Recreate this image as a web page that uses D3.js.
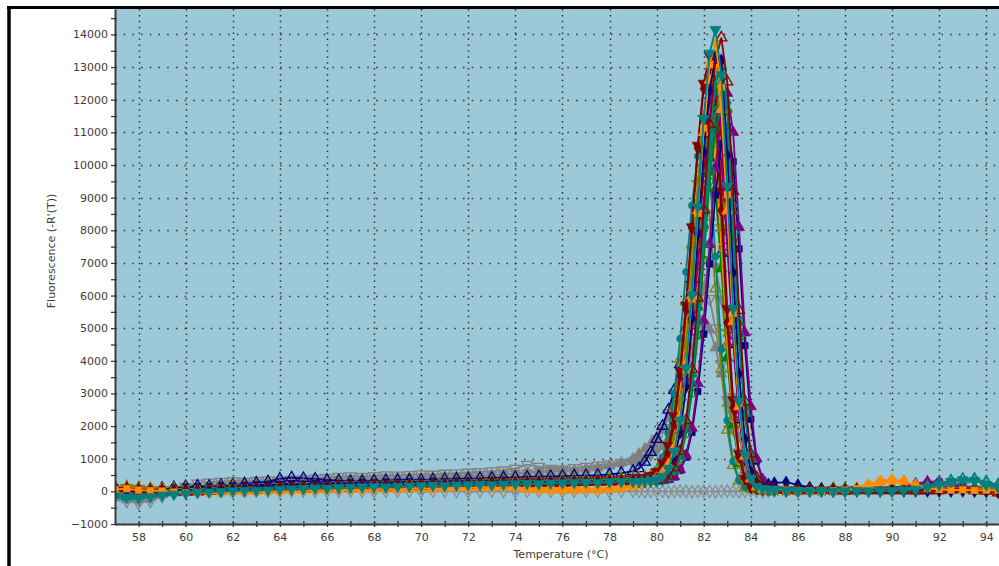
<!DOCTYPE html>
<html>
<head>
<meta charset="utf-8">
<script src="https://cdn.jsdelivr.net/npm/d3@7"></script>
<style>
  html, body { margin: 0; padding: 0; background: #ffffff; }
  svg { display: block; }
  text { font-family: "DejaVu Sans", Verdana, sans-serif; }
</style>
</head>
<body>
<svg id="chart" width="999" height="566"></svg>
<script>
// Melt curve: -dR/dT against temperature, one series per well.
const temperature = [
  57, 57.5, 58, 58.5, 59, 59.5, 60, 60.5, 61, 61.5, 62, 62.5, 63, 63.5, 64,
  64.5, 65, 65.5, 66, 66.5, 67, 67.5, 68, 68.5, 69, 69.5, 70, 70.5, 71, 71.5,
  72, 72.5, 73, 73.5, 74, 74.5, 75, 75.5, 76, 76.5, 77, 77.5, 78, 78.5, 79,
  79.25, 79.5, 79.75, 80, 80.25, 80.5, 80.75, 81, 81.25, 81.5, 81.75, 82,
  82.25, 82.5, 82.75, 83, 83.25, 83.5, 83.75, 84, 84.25, 84.5, 84.75, 85,
  85.5, 86, 86.5, 87, 87.5, 88, 88.5, 89, 89.5, 90, 90.5, 91, 91.5, 92, 92.5,
  93, 93.5, 94, 94.5
];

const xTicks = [58, 60, 62, 64, 66, 68, 70, 72, 74, 76, 78, 80, 82, 84, 86, 88, 90, 92, 94];
const xMinorTicks = [59, 61, 63, 65, 67, 69, 71, 73, 75, 77, 79, 81, 83, 85, 87, 89, 91, 93];
const yTicks = [-1000, 0, 1000, 2000, 3000, 4000, 5000, 6000, 7000, 8000, 9000, 10000, 11000, 12000, 13000, 14000];
const yMinorTicks = [-500, 500, 1500, 2500, 3500, 4500, 5500, 6500, 7500, 8500, 9500, 10500, 11500, 12500, 13500, 14500];

const wellA1 = [
  60,80,40,20,10, -20,-40,-30,-50,-60, -40,-50,-30,-20,-10, 0,10,30,20,40, 50,40,60,70,60,
  80,90,70,100,110, 100,120,130,110,140, 90,80,70,80,70, 60,70,90,120,170,
  230,270,320,380,500,740,1240,2170,3720,5890,8520,11130,13070,13750,12380,9090,5450,2690,1110,390,140,70,60,50,
  40,30,20,30,20, 40,80,150,260,320, 300,180,90,60,40, 50,30,40,30
];
const wellA2 = [
  -150,-180,-200,-170,-120, -90,-60,-40,-20,-10, 10,20,30,40,60, 70,80,100,90,110, 120,130,140,130,150,
  160,170,180,170,190, 200,210,200,220,230, 240,230,250,260,270, 280,270,290,300,300,
  300,310,320,360,460,700,1220,2180,3780,6020,8720,11420,13420,14150,12760,9350,5600,2760,1130,400,150,80,60,40,
  30,20,10,20,0, 10,20,10,30,20, 40,60,120,200,300, 350,330,200,120
];
const wellA3 = [
  50,20,0,-20,10, 30,50,40,70,90, 80,110,130,150,140, 160,150,170,180,170, 190,200,180,210,220,
  200,230,240,220,250, 260,250,270,280,260, 290,280,300,290,310, 300,320,310,300,290,
  290,300,330,350,420,600,1000,1800,3200,5300,7900,10400,12300,13300,13200,10300,6700,3600,1600,600,250,150,220,260,
  280,200,120,80,60, 50,40,50,30,40, 30,50,40,30,20, 40,30,20,30
];
const wellA4 = [
  120,90,60,40,20, 0,-20,-10,10,30, 40,60,50,70,90, 100,90,110,120,130, 120,140,150,140,160,
  170,160,180,190,200, 190,210,220,230,220, 240,250,260,250,270, 280,290,300,310,310,
  310,320,330,345,385,480,730,1230,2170,3745,5930,8620,11250,13210,13900,12550,9200,5550,2750,1150,420,150,80,50,
  40,30,50,40,30, 20,40,30,50,40, 30,20,30,40,60, 80,50,20,-40
];
const wellB1 = [
  -50,-80,-60,-30,0, 20,10,40,60,50, 70,90,80,100,120, 110,130,140,150,140, 160,170,160,180,190,
  200,190,210,220,230, 240,230,250,260,270, 280,290,300,310,320, 330,340,350,360,370,
  380,400,420,460,560,780,1210,2040,3450,5500,7900,10200,11950,12600,11400,8400,5050,2500,1050,380,140,70,50,40,
  30,40,20,30,40, 30,50,40,60,80, 120,200,280,320,250, 150,90,60,40
];
const wellB2 = [
  100,150,120,80,60, 90,110,80,100,130, 150,140,160,180,170, 190,200,180,210,220, 230,220,240,250,260,
  250,270,280,290,280, 300,310,320,310,330, 340,350,340,360,370, 380,370,390,400,410,
  420,450,480,560,700,1020,1650,2760,4500,6900,9450,11450,12250,11000,8100,4900,2400,1000,380,160,90,60,50,40,
  40,50,60,40,50, 60,50,70,60,80, 70,60,80,70,90, 100,80,70,60
];
const wellB3 = [
  -20,10,30,0,-30, -10,20,40,30,60, 50,70,90,80,100, 110,100,120,130,120, 140,150,160,150,170,
  180,170,190,200,190, 210,220,230,220,240, 250,260,270,260,280, 290,300,310,320,330,
  330,340,345,370,400,490,720,1200,2080,3550,5600,8100,10550,12400,12950,11650,8540,5120,2530,1060,380,140,70,50,
  40,30,50,40,60, 50,40,60,50,40, 60,50,70,60,50, 70,60,80,70
];
const wellB4 = [
  -100,-300,-350,-300,-150, 0,150,250,280,300, 320,300,330,350,340, 360,380,400,420,450, 470,450,480,500,490,
  510,530,520,550,560, 580,600,620,650,700, 820,760,700,680,720, 760,800,830,880,920,
  1000,1150,1350,1600,1950,2400,3000,3700,4400,5100,5700,6200,5900,5000,3900,2800,1900,1200,700,380,200,120,80,60,
  40,30,20,30,40, 20,30,40,30,20, 40,30,20,40,30, 20,30,40,30
];
const wellC1 = [
  -200,-250,-220,-180,-100, -20,60,120,180,220, 250,270,260,280,300, 310,330,320,340,360, 380,370,390,400,420,
  410,430,440,460,450, 470,490,500,520,540, 560,580,600,620,640, 680,720,780,880,1000,
  1150,1300,1450,1650,1900,2250,2700,3200,3750,4300,4750,5100,4950,4400,3600,2700,1850,1150,650,330,170,100,70,50,
  30,20,10,20,30, 10,20,30,20,10, 20,30,20,10,20, 30,20,10,20
];
const wellC2 = [
  30,0,-20,-40,-30, -10,10,0,20,40, 30,50,40,60,80, 70,90,100,110,100, 120,130,140,130,150,
  160,170,160,180,190, 200,190,210,220,230, 240,230,250,260,280, 290,300,320,340,350,
  360,380,410,500,730,1200,2075,3535,5570,8060,10510,12340,13000,11700,8610,5170,2560,1065,385,120,80,60,50,40,
  30,20,40,30,20, 30,40,20,30,40, 30,20,30,40,30, 20,10,0,-30
];
const wellC3 = [
  80,60,40,70,100, 120,150,170,160,180, 200,230,260,300,380, 420,400,380,350,330, 300,310,320,330,340,
  350,340,360,370,380, 390,400,410,420,430, 440,450,460,470,480, 490,500,520,560,620,
  700,900,1200,1600,2000,2500,3100,3900,5000,6500,8300,9900,10800,9900,7300,4500,2200,900,350,150,90,60,50,40,
  50,40,30,50,40, 30,50,40,30,40, 50,40,30,60,50, 40,30,40,30
];
const wellC4 = [
  150,120,100,130,110, 80,60,40,20,0, -20,-10,10,0,20, 30,20,40,50,40, 60,50,70,80,70,
  90,100,80,90,110, 100,120,110,130,120, 120,110,130,100,90, 100,90,110,150,220,
  280,320,380,460,670,1076,1835,3100,4870,7030,9150,10740,11300,10170,7480,4500,2230,936,344,140,90,70,55,45,
  40,30,20,40,30, 50,120,220,340,360, 280,150,80,50,40, 30,40,30,20
];
const wellD1 = [
  20,-30,-60,-80,-50, -20,10,30,20,50, 70,60,80,100,90, 110,120,130,120,140, 150,160,150,170,180,
  190,180,200,210,220, 210,230,240,250,240, 260,270,280,270,290, 300,290,310,300,310,
  310,320,330,340,370,460,700,1180,2075,3560,5640,8180,10680,12550,13200,11910,8760,5255,2600,1080,390,150,90,70,
  60,50,40,60,50, 40,60,50,40,50, 60,80,150,250,330, 380,340,250,150
];
const wellD2 = [
  60,40,20,50,30, 20,40,60,50,70, 90,80,100,110,120, 130,120,140,150,160, 150,170,180,170,190,
  200,210,200,220,230, 240,230,250,260,250, 270,260,280,290,280, 290,300,290,300,300,
  300,310,320,325,335,370,450,670,1110,1940,3310,5230,7570,9880,11600,12200,11000,8090,4860,2600,1000,370,140,80,
  60,50,40,50,60, 40,50,60,80,100, 160,240,300,280,200, 130,80,60,40
];
const wellD3 = [
  -40,-10,20,50,30, 60,80,70,90,110, 100,120,140,130,150, 160,170,160,180,190, 200,190,210,220,210,
  230,240,230,250,260, 270,260,280,290,300, 310,300,320,330,340, 350,340,360,350,350,
  350,360,370,400,495,730,1210,2105,3590,5670,8210,10710,12580,13250,11930,8760,5255,2600,1070,380,140,70,55,45,
  50,60,70,60,80, 70,60,80,70,90, 80,70,90,80,100, 90,80,100,90
];
const wellD4 = [
  70,50,90,60,40, 70,90,110,100,120, 140,130,150,160,150, 170,180,190,180,200, 210,200,220,230,220,
  240,250,240,260,270, 280,270,290,300,310, 320,310,330,340,350, 340,350,360,350,350,
  350,370,400,460,640,1010,1700,2850,4460,6420,8350,9790,10300,9270,6820,4100,2040,860,320,130,85,65,50,40,
  30,40,60,50,40, 60,50,40,60,50, 40,60,50,40,60, 50,40,60,50
];
const wellE1 = [
  0,-20,10,30,20, 40,30,50,70,60, 80,100,90,110,120, 130,120,140,150,160, 170,160,180,190,200,
  190,210,220,230,220, 240,250,260,250,270, 280,290,300,310,320, 330,320,340,350,350,
  350,360,370,400,480,690,1130,1940,3290,5180,7480,9750,11440,12050,10840,7960,4780,2370,980,350,130,70,55,45,
  30,20,40,30,50, 40,30,40,50,40, 30,50,40,30,40, 50,60,40,20
];
const wellE2 = [
  20,50,30,60,80, 70,90,110,100,120, 130,150,140,160,170, 160,180,190,200,190, 210,220,210,230,240,
  230,250,260,250,270, 280,270,290,300,290, 310,320,310,330,340, 330,340,350,350,350,
  360,390,466,655,1050,1780,2985,4680,6720,8760,10270,10830,9770,7200,4350,2170,920,350,143,70,60,50,45,40,
  40,50,40,30,50, 40,60,50,40,60, 50,40,60,70,50, 40,60,50,40
];
const wellE3 = [
  -80,-120,-100,-60,-20, 10,40,30,60,80, 100,90,120,110,130, 150,140,160,170,160, 180,190,200,190,210,
  220,230,220,240,250, 260,250,270,280,290, 300,290,310,320,330, 340,330,350,350,350,
  360,380,450,611,944,1565,2600,4050,5810,7560,8850,9300,8420,6210,3755,1880,804,316,130,80,65,55,50,45,
  60,70,80,70,90, 80,70,90,100,90, 80,100,110,100,90, 110,100,120,110
];
const wellE4 = [
  110,80,50,30,60, 90,120,140,130,150, 170,180,200,190,210, 230,220,240,250,240, 260,270,260,280,270,
  290,280,300,290,310, 300,290,310,300,310, 300,310,300,290,300, 310,300,290,300,300,
  300,300,310,320,330,360,440,640,1046,1805,3060,4820,6970,9080,10660,11180,10100,7430,4465,2210,926,344,136,80,
  60,50,40,50,40, 60,50,40,50,60, 40,50,60,50,40, 60,50,40,50
];
const wellF1 = [
  -150,-200,-250,-200,-120, -40,40,100,160,200, 230,250,240,260,280, 290,300,310,320,330, 340,350,360,370,380,
  390,400,410,420,430, 450,470,490,510,540, 570,620,660,640,620, 650,690,740,800,860,
  900,1000,1100,1250,1450,1750,2150,2700,3400,4300,5300,6300,7100,6900,5900,4400,2900,1700,900,450,220,120,80,60,
  30,40,30,20,30, 40,30,20,30,40, 30,20,30,40,30, 20,30,40,30
];
const wellF2 = [
  40,20,-10,-30,0, 30,50,70,60,80, 100,90,110,130,120, 140,150,140,160,170, 180,170,190,200,190,
  210,220,230,220,240, 250,260,250,270,280, 290,280,300,310,310, 320,330,320,330,340,
  340,360,390,450,580,840,1300,2100,3300,4900,6900,8900,10400,11200,10100,7500,4600,2300,980,360,140,70,50,40,
  30,40,30,50,40, 30,40,50,40,30, 50,80,180,260,240, 140,80,50,40
];
const wellF3 = [
  -60,-100,-80,-50,-20, 0,30,20,50,70, 60,80,100,90,110, 130,120,140,150,160, 170,160,180,190,200,
  210,200,220,230,240, 250,240,260,270,280, 290,300,310,320,330, 340,350,360,370,380,
  380,420,480,600,880,1400,2300,3700,5700,8100,10600,12500,13350,12300,9200,5600,2800,1150,400,150,90,60,50,40,
  30,40,30,20,40, 30,50,40,30,40, 30,50,40,30,40, 50,30,20,-20
];
const wellF4 = [
  90,60,30,10,40, 60,80,70,90,110, 120,110,130,140,150, 140,160,170,160,180, 190,200,190,210,220,
  230,220,240,250,240, 260,270,260,280,290, 280,300,290,300,310, 300,310,320,310,320,
  320,330,340,350,380,450,620,1000,1760,3000,4800,7100,9500,11100,11750,10500,7700,4650,2300,970,360,130,70,50,
  40,50,60,50,40, 60,50,70,60,50, 70,60,50,70,60, 80,70,60,80
];
const wellG1 = [
  0,30,60,40,20, -10,-30,-20,0,10, 20,10,30,40,30, 50,60,50,70,80, 70,90,80,100,90,
  110,100,120,110,130, 120,140,130,150,140, 60,50,40,30,40, 50,40,60,90,150,
  220,270,330,410,560,820,1350,2300,3900,6000,8600,11000,12600,13100,11700,8600,5200,2600,1080,390,140,70,50,40,
  40,30,40,30,50, 60,110,200,300,350, 320,200,100,60,40, 30,40,30,40
];
const wellG2 = [
  -100,-160,-140,-90,-50, -30,0,20,40,30, 50,70,60,80,100, 90,110,120,130,120, 140,150,160,150,170,
  180,190,180,200,210, 220,230,220,240,250, 260,250,270,280,270, 290,280,300,300,300,
  300,310,320,340,370,440,640,1080,1900,3300,5200,7600,9900,11600,12250,11000,8000,4850,2400,1000,370,140,75,50,
  50,40,60,50,40, 60,50,40,60,70, 60,90,140,220,300, 360,380,300,200
];
// No-template control
const wellNTC = [
  0,10,-10,0,10, 0,-10,0,10,0, -10,0,10,0,-10, 0,10,0,-10,0, 10,0,-10,0,10,
  0,-10,0,10,0, -10,0,10,0,-10, 0,10,0,-10,0, 10,0,-10,0,10,
  0,-10,0,10,0,-10,0,10,0,-10,0,10,0,-10,0,10,0,-10,0,10,0,-10,0,10,
  0,-10,0,10,0, -10,0,10,0,-10, 0,10,0,-10,0, 10,0,-10,0
];

// Drawing order and appearance of each well trace
const wellStyles = [
  { values: wellNTC, color: "#8c8c8c", shape: "diamond", open: true },
  { values: wellB4, color: "#808080", shape: "triangleDown", open: true },
  { values: wellC1, color: "#808080", shape: "triangle", open: false },
  { values: wellF1, color: "#808080", shape: "triangleDown", open: false },
  { values: wellC3, color: "#000080", shape: "triangle", open: true },
  { values: wellE3, color: "#808000", shape: "triangle", open: true },
  { values: wellE2, color: "#008080", shape: "circle", open: false },
  { values: wellD4, color: "#008000", shape: "triangle", open: false },
  { values: wellC4, color: "#FF8C00", shape: "circle", open: true },
  { values: wellB2, color: "#808000", shape: "star", open: false },
  { values: wellF3, color: "#8B0000", shape: "triangleDown", open: false },
  { values: wellC2, color: "#800000", shape: "diamond", open: false },
  { values: wellE1, color: "#8B0000", shape: "circle", open: true },
  { values: wellF2, color: "#800080", shape: "square", open: true },
  { values: wellB1, color: "#800080", shape: "circle", open: false },
  { values: wellE4, color: "#000080", shape: "square", open: false },
  { values: wellD2, color: "#800080", shape: "triangle", open: false },
  { values: wellF4, color: "#008000", shape: "circle", open: true },
  { values: wellB3, color: "#008000", shape: "cross", open: false },
  { values: wellG2, color: "#008080", shape: "triangle", open: true },
  { values: wellD3, color: "#808000", shape: "square", open: false },
  { values: wellG1, color: "#FF8C00", shape: "triangle", open: false },
  { values: wellD1, color: "#008080", shape: "diamond", open: true },
  { values: wellA3, color: "#000080", shape: "diamond", open: false },
  { values: wellA4, color: "#8B0000", shape: "triangle", open: true },
  { values: wellA1, color: "#FF8C00", shape: "square", open: false },
  { values: wellA2, color: "#008080", shape: "triangleDown", open: false }
];

const width = 999, height = 566;
const plot = { left: 115, right: 999, top: 9, bottom: 524 };

const svg = d3.select("#chart");

const x = d3.scaleLinear().domain([57, 94.54]).range([plot.left, plot.right]);
const y = d3.scaleLinear().domain([-1000, 14780]).range([plot.bottom, plot.top]);

// Plot background
svg.append("rect")
  .attr("x", plot.left).attr("y", plot.top)
  .attr("width", plot.right - plot.left).attr("height", plot.bottom - plot.top)
  .attr("fill", "#9dc8d7");

// Dotted grid
const grid = svg.append("g").attr("stroke", "#1c1c1c").attr("stroke-width", 1.5).attr("opacity", 0.85);
grid.selectAll("line.h").data(yTicks).join("line")
  .attr("class", "h")
  .attr("x1", plot.left).attr("x2", plot.right)
  .attr("y1", d => Math.round(y(d)) + 0.5).attr("y2", d => Math.round(y(d)) + 0.5)
  .attr("stroke-dasharray", "1.5,7.2");
grid.selectAll("line.v").data(xTicks).join("line")
  .attr("class", "v")
  .attr("y1", plot.top).attr("y2", plot.bottom)
  .attr("x1", d => Math.round(x(d)) + 0.5).attr("x2", d => Math.round(x(d)) + 0.5)
  .attr("stroke-dasharray", "1.5,4.4");

// Traces
svg.append("clipPath").attr("id", "plot-clip")
  .append("rect")
  .attr("x", plot.left + 1).attr("y", plot.top)
  .attr("width", plot.right - plot.left).attr("height", plot.bottom - plot.top);

const traces = svg.append("g").attr("clip-path", "url(#plot-clip)");

const line = d3.line()
  .x(d => x(d[0]))
  .y(d => y(d[1]));

const symbolTypes = {
  triangle: d3.symbolTriangle,
  triangleDown: d3.symbolTriangle,
  square: d3.symbolSquare,
  diamond: d3.symbolDiamond,
  circle: d3.symbolCircle,
  star: d3.symbolStar,
  cross: d3.symbolCross
};
const symbolSizes = { triangle: 52, triangleDown: 52, square: 40, diamond: 44, circle: 38, star: 54, cross: 48 };

wellStyles.forEach(w => {
  const pts = temperature.map((t, i) => [t, w.values[i]]).filter(d => d[1] !== undefined);
  const g = traces.append("g");
  g.append("path")
    .datum(pts)
    .attr("fill", "none")
    .attr("stroke", w.color)
    .attr("stroke-width", 1.8)
    .attr("d", line);
  const sym = d3.symbol().type(symbolTypes[w.shape]).size(symbolSizes[w.shape]);
  const rot = w.shape === "triangleDown" ? " rotate(180)" : "";
  g.selectAll("path.m").data(pts).join("path")
    .attr("class", "m")
    .attr("d", sym)
    .attr("transform", d => `translate(${x(d[0])},${y(d[1])})${rot}`)
    .attr("fill", w.open ? "none" : w.color)
    .attr("stroke", w.color)
    .attr("stroke-width", w.open ? 1.3 : 0.8);
});

// Axes
const axisColor = "#3a3a3a";
const textColor = "#3c3c3c";

const yAxis = svg.append("g")
  .attr("transform", `translate(${plot.left},0)`)
  .call(d3.axisLeft(y).tickValues(yTicks).tickSizeInner(4).tickSizeOuter(0).tickPadding(3).tickFormat(d3.format("d")));
yAxis.select(".domain").attr("stroke", axisColor).attr("stroke-width", 2);
yAxis.selectAll(".tick line").attr("stroke", axisColor).attr("stroke-width", 1.3).attr("x1", 2);
yAxis.selectAll(".tick text").attr("fill", textColor).style("font-size", "11px");

const yMinor = svg.append("g")
  .attr("transform", `translate(${plot.left},0)`)
  .call(d3.axisLeft(y).tickValues(yMinorTicks).tickSizeInner(4).tickSizeOuter(0).tickFormat(""));
yMinor.select(".domain").remove();
yMinor.selectAll(".tick line").attr("stroke", axisColor).attr("stroke-width", 1.3).attr("x1", 2);

const xAxis = svg.append("g")
  .attr("transform", `translate(0,${plot.bottom})`)
  .call(d3.axisBottom(x).tickValues(xTicks).tickSizeInner(3).tickSizeOuter(0).tickPadding(6).tickFormat(d3.format("d")));
xAxis.select(".domain").attr("stroke", axisColor).attr("stroke-width", 2);
xAxis.selectAll(".tick line").attr("stroke", axisColor).attr("stroke-width", 1.3).attr("y1", -3);
xAxis.selectAll(".tick text").attr("fill", textColor).style("font-size", "11px");

const xMinor = svg.append("g")
  .attr("transform", `translate(0,${plot.bottom})`)
  .call(d3.axisBottom(x).tickValues(xMinorTicks).tickSizeInner(3).tickSizeOuter(0).tickFormat(""));
xMinor.select(".domain").remove();
xMinor.selectAll(".tick line").attr("stroke", axisColor).attr("stroke-width", 1.3).attr("y1", -3);

// Axis titles
svg.append("text")
  .attr("x", 561).attr("y", 558)
  .attr("text-anchor", "middle")
  .attr("fill", textColor)
  .style("font-size", "11px")
  .text("Temperature (°C)");

svg.append("text")
  .attr("transform", "translate(55,251) rotate(-90)")
  .attr("text-anchor", "middle")
  .attr("fill", textColor)
  .style("font-size", "11px")
  .text("Fluorescence (-R'(T))");

// Outer frame (top and left edges fall inside the view)
svg.append("line").attr("x1", 7).attr("x2", width).attr("y1", 7.5).attr("y2", 7.5)
  .attr("stroke", "#000").attr("stroke-width", 3);
svg.append("line").attr("x1", 9).attr("x2", 9).attr("y1", 6).attr("y2", height)
  .attr("stroke", "#000").attr("stroke-width", 3.5);
</script>
</body>
</html>
